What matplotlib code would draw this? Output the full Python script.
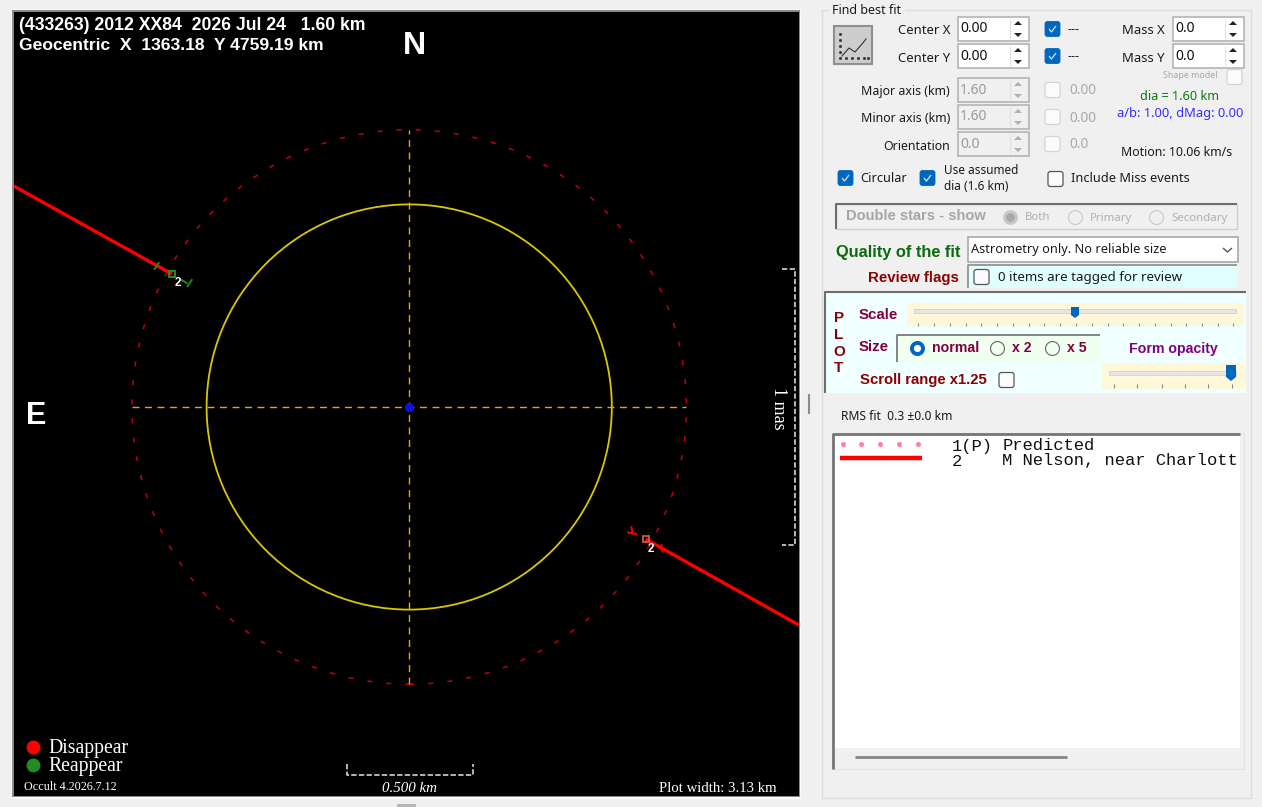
import numpy as np
import matplotlib
matplotlib.use('Agg')
from matplotlib import pyplot as plt
from matplotlib.patches import Circle, Rectangle, Polygon, FancyBboxPatch

W, H = 1262, 807

# plot data, all in km from the centre of the asteroid
plot_width_km = 3.13
diameter = 1.60
path_radius = 1.10
chord1_x = [-1.569, -0.942]
chord1_y = [0.877, 0.528]
chord2_x = [0.938, 1.546]
chord2_y = [-0.524, -0.865]
reappear_x = [-0.942]
reappear_y = [0.528]
disappear_x = [0.938]
disappear_y = [-0.524]
label_x = [-0.918, 0.958]
label_y = [0.494, -0.562]
scale_km = 0.500
mas_km = 1.095

# control panel values
spin_left = [('Center X', 30, '0.00'), ('Center Y', 57, '0.00')]
spin_mass = [('Mass X', 30, '0.0'), ('Mass Y', 57, '0.0')]
spin_shape = [('Major axis (km)', 91, '1.60', '0.00'), ('Minor axis (km)', 118, '1.60', '0.00'), ('Orientation', 145, '0.0', '0.0')]
double_opts = [('Both', 1010), ('Primary', 1075), ('Secondary', 1156)]
size_opts = [('normal', 917), ('x 2', 997), ('x 5', 1052)]
scale_ticks = [918, 934, 950, 966, 981, 997, 1013, 1029, 1044, 1060, 1076, 1092, 1108, 1123, 1139, 1155, 1171, 1186, 1202, 1218, 1233]
opacity_ticks = [1114, 1137, 1162, 1185, 1208, 1232]
pred_dots = [843, 861, 880, 899, 918]

UI = ['Noto Sans', 'DejaVu Sans']
UIB = ['Liberation Sans', 'DejaVu Sans']
BLUE = '#0067c0'

fig = plt.figure(figsize=(W / 100, H / 100), dpi=100, facecolor='#f0f0f0')


def axes_px(x0, y0, x1, y1):
    return fig.add_axes([x0 / W, 1 - y1 / H, (x1 - x0) / W, (y1 - y0) / H])


# the whole form, in screen pixels
ui = axes_px(0, 0, W, H)
ui.set_xlim(0, W)
ui.set_ylim(H, 0)
ui.axis('off')


def box(x0, y0, x1, y1, fc='white', ec='none', lw=1.0, z=2):
    ui.add_patch(Rectangle((x0, y0), x1 - x0, y1 - y0, fc=fc, ec=ec, lw=lw, zorder=z))


def line(xs, ys, c, lw=1.0, z=3, **kw):
    ui.plot(xs, ys, color=c, lw=lw, zorder=z, solid_capstyle='butt', **kw)


def label(x, y, s, size=9, c='#1a1a1a', ha='left', weight='normal', fam=None, **kw):
    if fam is None:
        fam = UIB if weight == 'bold' else UI
    ui.text(x, y + 1, s, fontsize=size, color=c, ha=ha, va='center', weight=weight, family=fam, zorder=6, **kw)


def check(x, y, on=False, enabled=True):
    style = 'round,pad=0,rounding_size=2.5'
    if on:
        ui.add_patch(FancyBboxPatch((x, y - 7.5), 15, 15, boxstyle=style, fc=BLUE, ec=BLUE, lw=0.6, zorder=4))
        line([x + 4, x + 6.5, x + 11], [y, y + 3, y - 3], '#cfe4f7', 0.9, 5)
    else:
        ui.add_patch(FancyBboxPatch((x, y - 7.5), 15, 15, boxstyle=style, fc='#fbfbfb', ec='#555555' if enabled else '#d4d4d4', lw=0.9, zorder=4))


def radio(x, y, on=False, enabled=True, fc='white'):
    if on and enabled:
        ui.plot(x, y, 'o', ms=8, mfc='white', mec=BLUE, mew=2.8, zorder=5)
    elif on:
        ui.plot(x, y, 'o', ms=8.5, mfc='#a8a8a8', mec='#c8c8c8', mew=2.2, zorder=5)
    else:
        ui.plot(x, y, 'o', ms=10, mfc=fc, mec='#666666' if enabled else '#c8c8c8', mew=0.8, zorder=5)


def spin(x0, y, txt, enabled=True):
    x1 = x0 + 71
    ec = '#b4b4b4'
    box(x0, y - 12, x1, y + 12, 'white' if enabled else '#f0f0f0', ec, 1.2)
    c = '#111111' if enabled else '#9a9a9a'
    label(x0 + 2, y - 1, txt, 10, c)
    line([x0 + 52, x0 + 52], [y - 10, y + 10], '#e2e2e2', 0.8)
    ac = '#222222' if enabled else '#b0b0b0'
    ax_ = x0 + 60
    ui.add_patch(Polygon([[ax_ - 4, y - 4], [ax_ + 4, y - 4], [ax_, y - 8]], fc=ac, ec='none', zorder=5))
    ui.add_patch(Polygon([[ax_ - 4, y + 4], [ax_ + 4, y + 4], [ax_, y + 8]], fc=ac, ec='none', zorder=5))


# group box and splitter
box(822, 10, 1251, 798, '#f0f0f0', '#dcdcdc', 1.0, 1)
box(829, 3, 905, 17, '#f0f0f0', 'none', 0, 1.5)
label(832, 10, 'Find best fit', 9)
line([809, 809], [394, 414], '#8c8c8c', 1.5)
box(397, 804, 416, 807, '#b5b5b5', 'none', 0)

# fit button
box(834, 26, 872, 64, '#cdcdcd', '#8f8f8f', 1.5)
ui.plot([842, 849, 855, 862, 866], [56, 48, 52, 44, 39], color='#333333', lw=0.8, zorder=4)
ui.plot([840] * 5, [34, 40, 46, 52, 58], ls='none', marker='s', ms=1.0, color='#333333', zorder=4)
ui.plot([846, 852, 858, 864, 868], [58] * 5, ls='none', marker='s', ms=1.0, color='#333333', zorder=4)

for name, y, val in spin_left:
    label(950, y, name, 9.4, ha='right')
    spin(958, y - 1, val)
    check(1045, y - 1, True)
    label(1068, y - 1, '---', 9)
for name, y, val in spin_mass:
    label(1165, y, name, 9.4, ha='right')
    spin(1173, y - 1, val)
label(1163, 75, 'Shape model', 6.4, '#a8a8a8')
check(1227, 77, False, False)
for name, y, val, val2 in spin_shape:
    label(950, y, name, 8.9, ha='right')
    spin(958, y - 1, val, False)
    check(1045, y - 1, False, False)
    label(1069, y - 1, val2, 9.8, '#a8a8a8')
label(1179, 95, 'dia = 1.60 km', 9.1, '#0b7a0b', ha='center')
label(1180, 113, 'a/b: 1.00, dMag: 0.00', 9.3, '#3a2cff', ha='center')
label(1177, 151, 'Motion: 10.06 km/s', 8.85, ha='center')

check(838, 178, True)
label(860, 178, 'Circular', 9.2)
check(920, 178, True)
label(944, 170, 'Use assumed', 8.5)
label(944, 186, 'dia (1.6 km)', 8.5)
check(1048, 179)
label(1071, 178, 'Include Miss events', 9.2)

# double star options
box(836, 204, 1237, 229, '#f0f0f0', '#cfcfcf', 1.0)
line([836, 836, 1237], [229, 204, 204], '#6e6e6e', 1.5)
label(846, 215, 'Double stars - show', 10.5, '#a6a6a6', weight='bold')
for i, (name, x) in enumerate(double_opts):
    radio(x, 217, i == 0, False, '#f0f0f0')
    label(x + 15, 217, name, 8.2, '#b0b0b0')

# quality of fit
label(836, 251, 'Quality of the fit', 11.8, '#0b6b0b', weight='bold')
box(968, 237, 1238, 262, 'white', '#a8a8a8', 1.2)
label(971, 248, 'Astrometry only. No reliable size', 9.2)
line([1223, 1227.5, 1232], [248, 252, 248], '#555555', 1.0)
label(959, 277, 'Review flags', 10.8, '#8b0000', ha='right', weight='bold')
box(968, 265, 1237, 288, '#e0ffff', 'none', 0)
line([968, 968, 1237], [288, 265, 265], '#8a8a8a', 1.2)
check(974, 277)
label(998, 277, '0 items are tagged for review', 9.6)

# plot settings panel
box(825, 292, 1246, 393, '#f0ffff', 'none', 0)
line([825, 825, 1246], [393, 292, 292], '#6e6e6e', 1.5)
for ch, y in zip('PLOT', [317, 334, 351, 367]):
    label(839, y, ch, 11, '#8b0000', ha='center', weight='bold')
label(859, 314, 'Scale', 10.8, '#800040', weight='bold')
box(907, 303, 1244, 326, '#fff8d8', 'none', 0)
box(914, 309, 1236, 313, '#e6e6e6', '#d0d0d0', 0.6)
ui.add_patch(Polygon([[1071, 307], [1079, 307], [1079, 315], [1075, 318], [1071, 315]], fc=BLUE, ec='none', zorder=5))
ui.vlines(scale_ticks, 323, 326, color='#8c8c8c', lw=0.8, zorder=4)
label(859, 346, 'Size', 10.8, '#800040', weight='bold')
box(897, 335, 1100, 362, '#f0fff0', 'none', 0)
line([897, 897, 1100], [362, 335, 335], '#6e6e6e', 1.2)
for i, (name, x) in enumerate(size_opts):
    radio(x, 348, i == 0, True, '#f0fff0')
    label(x + 15, 347, name, 10.2, '#800040', weight='bold')
label(1173, 348, 'Form opacity', 10.2, '#800080', ha='center', weight='bold')
box(1102, 363, 1246, 389, '#fff8d8', 'none', 0)
box(1109, 371, 1236, 375, '#e6e6e6', '#d0d0d0', 0.6)
ui.add_patch(Polygon([[1226, 365], [1236, 365], [1236, 377], [1231, 381], [1226, 377]], fc=BLUE, ec='none', zorder=5))
ui.vlines(opacity_ticks, 384, 388, color='#8c8c8c', lw=0.8, zorder=4)
label(860, 379, 'Scroll range x1.25', 10.7, '#8b0000', weight='bold')
check(999, 380)

label(841, 416, 'RMS fit  0.3 ±0.0 km', 8.7)

# observer list
box(832, 433, 1244, 769, '#f0f0f0', '#e2e2e2', 0.8)
box(834, 435, 1240, 748, 'white', 'none', 0)
line([833, 833, 1240], [769, 434, 434], '#767676', 2)
ui.plot(pred_dots, [444] * 5, ls='none', marker='o', ms=2.6, color='#ff80b0', zorder=4)
line([840, 922], [458, 458], '#ff0000', 3.2, 4)
label(952, 445, '1(P)', 12.3, '#111111', fam=['Liberation Mono'])
label(1003, 445, 'Predicted', 12.3, '#111111', fam=['Liberation Mono'])
label(952, 460, '2', 12.3, '#111111', fam=['Liberation Mono'])
label(1002, 460, 'M Nelson, near Charlott', 12.3, '#111111', fam=['Liberation Mono'])
line([855, 1067], [757, 757], '#868686', 2)

# frame round the plot
box(11, 9, 801, 799, '#fafafa', 'none', 0)
box(12, 10, 800, 797, '#8a8a8a', 'none', 0)

# occultation plot, in km
x0, y0, x1, y1 = 14, 12, 799, 796
cx, cy, scale = 409.2, 407, 252.0
ax = axes_px(x0, y0, x1, y1)
ax.set_xlim((x0 - cx) / scale, (x1 - cx) / scale)
ax.set_ylim((cy - y1) / scale, (cy - y0) / scale)
ax.set_facecolor('black')
ax.set_xticks([])
ax.set_yticks([])
for s in ax.spines.values():
    s.set_visible(False)

ax.add_patch(Circle((0, 0), diameter / 2 * 1.005, fc='none', ec='#d8c800', lw=1.3))
ax.add_patch(Circle((0, 0), path_radius, fc='none', ec='#c00010', lw=1.1, ls=(0, (3.3, 9.2))))
ax.plot([-path_radius, path_radius], [0, 0], color='#e8a020', lw=1.0, ls=(0, (5, 4)))
ax.plot([0, 0], [-path_radius, path_radius], color='#e8a020', lw=1.0, ls=(0, (5, 4)))
ax.plot(0, 0, 'o', ms=5.5, color='#1010e0', zorder=5)

ax.plot(chord1_x, chord1_y, color='#ff0000', lw=2.4, solid_capstyle='butt')
ax.plot(chord2_x, chord2_y, color='#ff0000', lw=2.4, solid_capstyle='butt')
ax.plot(reappear_x, reappear_y, 's', ms=4, mfc='none', mec='#1f9a1f', mew=1.3)
ax.plot(disappear_x, disappear_y, 's', ms=4, mfc='none', mec='#d05a40', mew=1.3)

# error bars at each event
ax.plot([-1.010, -0.994], [0.548, 0.571], color='#1f8a1f', lw=1.4)
ax.plot([-0.903, -0.883], [0.504, 0.492], color='#1f8a1f', lw=1.4)
ax.plot([-0.863, -0.879], [0.504, 0.480], color='#1f8a1f', lw=1.4)
ax.plot([1.001, 1.005], [-0.548, -0.574], color='#ff0000', lw=1.4)
ax.plot([0.882, 0.886], [-0.477, -0.502], color='#ff0000', lw=1.4)
ax.plot([0.869, 0.901], [-0.498, -0.504], color='#ff0000', lw=1.4)
for lx, ly in zip(label_x, label_y):
    ax.text(lx, ly, '2', color='white', fontsize=8.5, ha='center', va='center', family='Liberation Sans', weight='bold')


def px_text(x, y, s, size, ha='left', **kw):
    ax.text((x - cx) / scale, (cy - y - 1) / scale, s, color='white', fontsize=size, ha=ha, va='center', **kw)


bold = dict(family='Liberation Sans', weight='bold')
serif = dict(family='Liberation Serif')
px_text(19, 25, '(433263) 2012 XX84  2026 Jul 24   1.60 km', 12.7, **bold)
px_text(19, 44, 'Geocentric  X  1363.18  Y 4759.19 km', 12.6, **bold)
px_text(414, 45, 'N', 23, 'center', **bold)
px_text(36, 415, 'E', 22, 'center', **bold)
ax.plot((33 - cx) / scale, (cy - 747) / scale, 'o', ms=9, color='#ff0000')
ax.plot((33 - cx) / scale, (cy - 765) / scale, 'o', ms=9, color='#228b22')
px_text(48, 747, 'Disappear', 14.2, **serif)
px_text(48, 765, 'Reappear', 14.2, **serif)
px_text(24, 786, 'Occult 4.2026.7.12', 8.7, **serif)
px_text(410, 787, '%.3f km' % scale_km, 10.8, 'center', style='italic', **serif)
px_text(777, 787, 'Plot width: %.2f km' % plot_width_km, 10.6, 'right', **serif)
px_text(779, 407, '1 mas', 13, 'center', rotation=270, family='Liberation Serif')

# scale brackets
sb_x = (346.5 - cx) / scale
sb_y0, sb_y1 = (cy - 775) / scale, (cy - 764) / scale
ax.plot([sb_x, sb_x, sb_x + scale_km, sb_x + scale_km], [sb_y1, sb_y0, sb_y0, sb_y1], color='#e8e8e8', lw=1.1, ls=(0, (3.5, 1.5)))
mb_x = (795 - cx) / scale
mb_x0 = (782 - cx) / scale
mb_top = (cy - 269) / scale
ax.plot([mb_x0, mb_x, mb_x, mb_x0], [mb_top, mb_top, mb_top - mas_km, mb_top - mas_km], color='#e8e8e8', lw=1.1, ls=(0, (3.5, 1.5)))

fig.savefig('out.png', dpi=100, facecolor=fig.get_facecolor())
